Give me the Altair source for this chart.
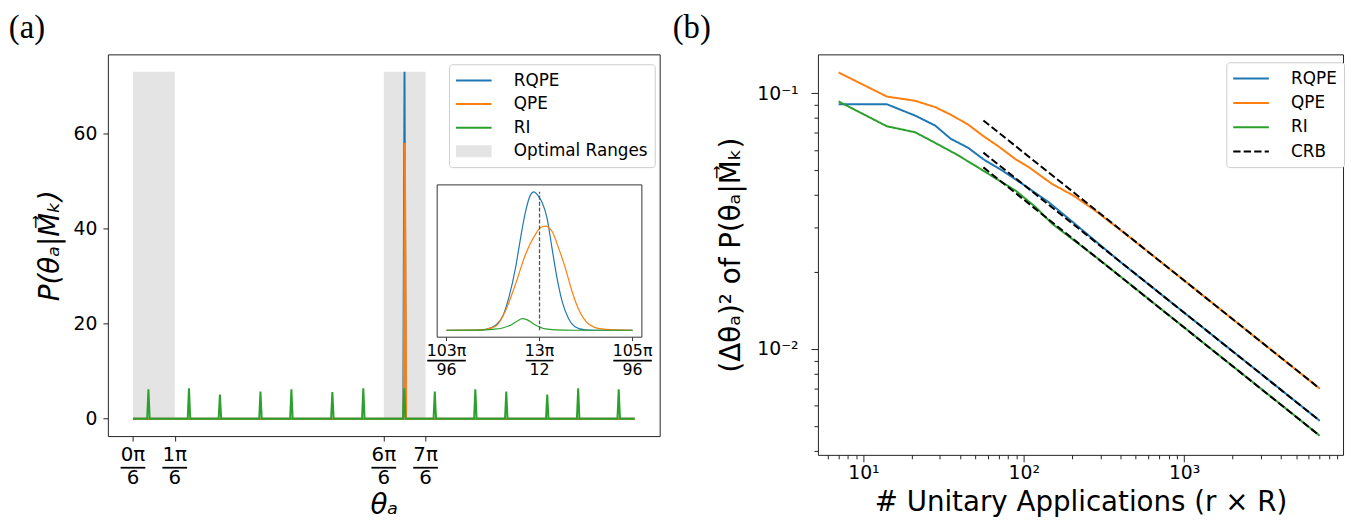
import altair as alt
import pandas as pd

FONT = "DejaVu Sans"
BLUE, ORANGE, GREEN, GRAY = "#1f77b4", "#ff7f0e", "#2ca02c", "#e4e4e4"

# ---------------- Panel (a) : posterior over theta (x in units of pi/6) ----------------
A_SERIES = ["RQPE", "QPE", "RI", "Optimal Ranges"]
A_COLORS = [BLUE, ORANGE, GREEN, GRAY]
A_XTICKS = [0, 1, 6, 7]
A_XTICK_NUM = ["0π", "1π", "6π", "7π"]
A_XTICK_DEN = ["6", "6", "6", "6"]
A_YTICKS = [0, 20, 40, 60]
OPT_START = [0, 6]
OPT_END = [1, 7]
OPT_TOP = [73, 73]
THETA_RANGE = [0, 12]
RQPE_PEAK_X = [6.496]
RQPE_PEAK_Y = [73.0]
QPE_PEAK_X = [6.504]
QPE_PEAK_Y = [58.0]
RI_PEAK_X = [0.37, 1.34, 2.08, 3.05, 3.79, 4.77, 5.51, 6.49, 7.22, 8.19, 8.93, 9.91, 10.65, 11.62]
RI_PEAK_Y = [6.2, 6.4, 5.1, 5.7, 6.2, 5.6, 6.4, 6.4, 5.7, 6.2, 5.7, 5.1, 6.4, 6.2]
PEAK_HALF_WIDTH = 0.03

# inset (x in units of pi/96)
IN_XTICKS = [103, 104, 105]
IN_NUM = ["103π", "13π", "105π"]
IN_DEN = ["96", "12", "96"]
IN_TRUE_X = [104]
IN_TRUE_TOP = [73]
RQPE_IN_X = [103.0, 103.32, 103.425, 103.531, 103.602, 103.672, 103.743, 103.797, 103.850, 103.903,
             103.938, 103.991, 104.027, 104.080, 104.133, 104.186, 104.240, 104.310, 104.381, 104.487,
             104.593, 105.0]
RQPE_IN_Y = [0, 0, 0.5, 2.8, 7.1, 17.6, 33.2, 48.9, 62.7, 71.4, 73.0, 70.5, 67.5, 59.3, 43.6, 28.0,
             15.8, 6.3, 1.9, 0.2, 0, 0]
QPE_IN_X = [103.0, 103.319, 103.425, 103.531, 103.637, 103.743, 103.850, 103.956, 104.009, 104.062,
            104.133, 104.203, 104.275, 104.346, 104.416, 104.522, 104.664, 104.841, 105.0]
QPE_IN_Y = [0, 0.1, 0.5, 2.2, 10.6, 24.5, 40.1, 50.6, 54.1, 54.9, 52.3, 43.6, 33.2, 21.0, 11.5, 3.6,
            0.7, 0.2, 0]
RI_IN_X = [103.0, 103.319, 103.496, 103.602, 103.708, 103.762, 103.815, 103.868, 103.956, 104.062,
           104.168, 104.381, 105.0]
RI_IN_Y = [0, 0.1, 0.5, 1.2, 3.2, 4.9, 6.1, 5.5, 2.8, 0.7, 0.2, 0, 0]

# ---------------- Panel (b) : variance vs unitary applications ----------------
B_SERIES = ["RQPE", "QPE", "RI", "CRB"]
B_COLORS = [BLUE, ORANGE, GREEN, "black"]
RQPE_N = [7, 14, 21, 28, 35, 45, 56, 74, 98, 143, 204, 400, 1000, 2000, 4000, 7000]
RQPE_V = [0.0906, 0.0906, 0.0818, 0.0748, 0.0664, 0.0612, 0.0552, 0.0497, 0.0442, 0.0375, 0.0312,
          0.0219, 0.01387, 0.00981, 0.00694, 0.00524]
QPE_N = [7, 14, 21, 28, 35, 45, 56, 70, 89, 108, 150, 204, 278, 500, 1000, 2000, 4000, 7000]
QPE_V = [0.1206, 0.0971, 0.0935, 0.0883, 0.0825, 0.0754, 0.068, 0.0618, 0.0552, 0.0513, 0.0442,
         0.0398, 0.0348, 0.0262, 0.01853, 0.0131, 0.00926, 0.0070]
RI_N = [7, 14, 21, 28, 38, 50, 67, 89, 119, 150, 300, 1000, 2000, 4000, 7000]
RI_V = [0.0929, 0.0743, 0.0704, 0.064, 0.0577, 0.052, 0.0464, 0.0416, 0.0358, 0.0309, 0.0222,
        0.01214, 0.00858, 0.00607, 0.00458]
CRB_N = [56, 7000]
CRB_RQPE = [0.0586, 0.00524]
CRB_QPE = [0.0783, 0.0070]
CRB_RI = [0.0513, 0.00458]
B_XTICKS = [6, 7, 8, 9, 10, 20, 30, 40, 50, 60, 70, 80, 90, 100, 200, 300, 400, 500, 600, 700,
            800, 900, 1000, 2000, 3000, 4000, 5000, 6000, 7000, 8000, 9000]
B_YTICKS = [0.004, 0.005, 0.006, 0.007, 0.008, 0.009, 0.01, 0.02, 0.03, 0.04, 0.05, 0.06, 0.07,
            0.08, 0.09, 0.1]

# ---------------- build tables ----------------
def spikes(name, px, py):
    pts = [(THETA_RANGE[0], 0.0)]
    for p, h in zip(px, py):
        pts += [(p - PEAK_HALF_WIDTH, 0.0), (p, h), (p + PEAK_HALF_WIDTH, 0.0)]
    pts.append((THETA_RANGE[1], 0.0))
    return pd.DataFrame({"x": [a for a, _ in pts], "y": [b for _, b in pts], "series": name})

df_rqpe = spikes("RQPE", RQPE_PEAK_X, RQPE_PEAK_Y)
df_qpe = spikes("QPE", QPE_PEAK_X, QPE_PEAK_Y)
df_ri = spikes("RI", RI_PEAK_X, RI_PEAK_Y)
df_opt = pd.DataFrame({"x": OPT_START, "x2": OPT_END, "y": [0, 0], "y2": OPT_TOP})
df_xt = pd.DataFrame({"x": A_XTICKS, "num": A_XTICK_NUM, "den": A_XTICK_DEN})

A_XDOM = [-0.6, 12.6]
A_YDOM = [-3.65, 76.65]
W_A, H_A = 558, 386

ax_x = alt.Axis(values=A_XTICKS, labels=False, tickSize=5, title="θₐ", titleFontSize=28,
                titleFontStyle="italic", titlePadding=51)
ax_y = alt.Axis(values=A_YTICKS, tickSize=5, labelFontSize=19, labelPadding=6,
                title="P(θₐ|M⃗ₖ)", titleFontSize=28, titleFontStyle="italic", titlePadding=9)
sx = alt.Scale(domain=A_XDOM, nice=False, zero=False)
sy = alt.Scale(domain=A_YDOM, nice=False, zero=False)

# legend symbols: a 36px line (size 289 -> unit half-width 8.5px), a filled patch for the ranges
LINE_SYM = "M-2.12,0H2.12"
PATCH_SYM = ("M-2.12,-0.6H2.12M-2.12,-0.4H2.12M-2.12,-0.2H2.12M-2.12,0H2.12"
             "M-2.12,0.2H2.12M-2.12,0.4H2.12M-2.12,0.6H2.12")
LEG_COMMON = dict(title=None, orient="none", fillColor="white", strokeColor="#cccccc",
                  cornerRadius=3, padding=7, labelFontSize=17, labelFont=FONT, labelColor="black",
                  labelOffset=31, symbolOffset=8.5, symbolSize=289, symbolStrokeWidth=2)
leg_a = alt.Legend(
    legendX=345, legendY=10, rowPadding=5.8,
    symbolType=alt.ExprRef(expr=f"datum.value === 'Optimal Ranges' ? '{PATCH_SYM}' : '{LINE_SYM}'"),
    **LEG_COMMON,
)
cscale_a = alt.Scale(domain=A_SERIES, range=A_COLORS)
col_a = alt.Color("series:N", scale=cscale_a, legend=leg_a)

def X(field="x"):
    return alt.X(f"{field}:Q", scale=sx, axis=ax_x)

def Y(field="y"):
    return alt.Y(f"{field}:Q", scale=sy, axis=ax_y)

opt_layer = alt.Chart(df_opt).mark_rect(color=GRAY).encode(x=X(), x2="x2:Q", y=Y(), y2="y2:Q")
line_layers = [
    alt.Chart(d).mark_line(strokeWidth=2).encode(x=X(), y=Y(), color=col_a)
    for d in (df_rqpe, df_qpe, df_ri)
]
num_layer = alt.Chart(df_xt).mark_text(font=FONT, fontSize=20, baseline="middle", color="black").encode(
    x=X(), y=alt.value(405.5), text="num:N")
bar_layer = alt.Chart(df_xt).mark_rule(xOffset=-12.5, x2Offset=12.5, strokeWidth=1.8, color="black").encode(
    x=X(), x2="x:Q", y=alt.value(418))
den_layer = alt.Chart(df_xt).mark_text(font=FONT, fontSize=20, baseline="middle", color="black").encode(
    x=X(), y=alt.value(428.5), text="den:N")
main_a = alt.layer(opt_layer, *line_layers, num_layer, bar_layer, den_layer)

# inset
IN_XDOM = [102.9, 105.1]
isx = alt.Scale(domain=IN_XDOM, range=[333, 540], nice=False, zero=False)
isy = alt.Scale(domain=A_YDOM, range=[286, 132], nice=False, zero=False)

def IX(field="u"):
    return alt.X(f"{field}:Q", scale=isx, axis=None)

def IY(field="v"):
    return alt.Y(f"{field}:Q", scale=isy, axis=None)

df_frame = pd.DataFrame({"u": [IN_XDOM[0]], "u2": [IN_XDOM[1]], "v": [A_YDOM[0]], "v2": [A_YDOM[1]]})
frame = alt.Chart(df_frame).mark_rect(fill="white", stroke="#333333", strokeWidth=1).encode(
    x=IX(), x2="u2:Q", y=IY(), y2="v2:Q")
in_lines = []
for xs, ys, c in ((RQPE_IN_X, RQPE_IN_Y, BLUE), (QPE_IN_X, QPE_IN_Y, ORANGE), (RI_IN_X, RI_IN_Y, GREEN)):
    in_lines.append(alt.Chart(pd.DataFrame({"u": xs, "v": ys})).mark_line(
        strokeWidth=1.2, color=c, interpolate="monotone").encode(x=IX(), y=IY()))
df_true = pd.DataFrame({"u": IN_TRUE_X, "v": [0], "v2": IN_TRUE_TOP})
true_rule = alt.Chart(df_true).mark_rule(strokeDash=[4, 2], color="#555555", strokeWidth=1.3).encode(
    x=IX(), y=IY(), y2="v2:Q")
df_it = pd.DataFrame({"u": IN_XTICKS, "v": [A_YDOM[0]] * 3, "num": IN_NUM, "den": IN_DEN})
in_ticks = alt.Chart(df_it).mark_rule(y2Offset=4, color="#333333", strokeWidth=1).encode(
    x=IX(), y=IY(), y2="v:Q")
in_num = alt.Chart(df_it).mark_text(font=FONT, fontSize=16, baseline="middle", color="black").encode(
    x=IX(), y=alt.value(300.5), text="num:N")
in_den = alt.Chart(df_it).mark_text(font=FONT, fontSize=16, baseline="middle", color="black").encode(
    x=IX(), y=alt.value(319), text="den:N")
df_wide = df_it[df_it["num"].str.len() > 3]
df_narrow = df_it[df_it["num"].str.len() <= 3]
in_bar_w = alt.Chart(df_wide).mark_rule(xOffset=-19.5, x2Offset=19.5, strokeWidth=1.6, color="black").encode(
    x=IX(), x2="u:Q", y=alt.value(309.7))
in_bar_n = alt.Chart(df_narrow).mark_rule(xOffset=-14, x2Offset=14, strokeWidth=1.6, color="black").encode(
    x=IX(), x2="u:Q", y=alt.value(309.7))
inset = alt.layer(frame, *in_lines, true_rule, in_ticks, in_num, in_den, in_bar_w, in_bar_n)

panel_a = alt.layer(main_a, inset).resolve_scale(x="independent", y="independent").properties(
    width=W_A, height=H_A,
    title=alt.TitleParams("(a)", anchor="start", frame="bounds", dx=-28, offset=10))

# ---------------- Panel (b) ----------------
rows = []
for name, ns, vs in (("RQPE", RQPE_N, RQPE_V), ("QPE", QPE_N, QPE_V), ("RI", RI_N, RI_V)):
    rows += [{"n": n, "v": v, "series": name, "grp": name} for n, v in zip(ns, vs)]
df_b = pd.DataFrame(rows)
rows = []
for name, vs in (("RQPE", CRB_RQPE), ("QPE", CRB_QPE), ("RI", CRB_RI)):
    rows += [{"n": n, "v": v, "series": "CRB", "grp": "crb_" + name} for n, v in zip(CRB_N, vs)]
df_crb = pd.DataFrame(rows)

MAJ_X = "datum.value == 10 || datum.value == 100 || datum.value == 1000"
MAJ_Y = "datum.value == 0.01 || datum.value == 0.1"
bx_axis = alt.Axis(values=B_XTICKS, labelExpr="datum.value == 10 ? '10¹' : datum.value == 100 ? '10²' : datum.value == 1000 ? '10³' : ''",
                   tickSize={"condition": {"test": MAJ_X, "value": 7}, "value": 4},
                   labelFontSize=19, labelPadding=2, labelOverlap=False, labelFlush=False,
                   title="# Unitary Applications (r × R)", titleFontSize=28, titlePadding=6)
by_axis = alt.Axis(values=B_YTICKS, labelExpr="datum.value == 0.1 ? '10⁻¹' : datum.value == 0.01 ? '10⁻²' : ''",
                   tickSize={"condition": {"test": MAJ_Y, "value": 7}, "value": 4},
                   labelFontSize=19, labelPadding=13, labelOverlap=False, labelFlush=False,
                   title="(Δθₐ)² of P(θₐ|M⃗ₖ)", titleFontSize=28, titlePadding=11)
bsx = alt.Scale(type="log", domain=[5.2, 9800], nice=False)
bsy = alt.Scale(type="log", domain=[0.00385, 0.142], nice=False)
leg_b = alt.Legend(legendX=413, legendY=8, rowPadding=6.6, symbolType=LINE_SYM, **LEG_COMMON)
col_b = alt.Color("series:N", scale=alt.Scale(domain=B_SERIES, range=B_COLORS), legend=leg_b)
dash_b = alt.StrokeDash("series:N", scale=alt.Scale(domain=B_SERIES, range=[[1, 0], [1, 0], [1, 0], [7.4, 3.2]]),
                        legend=leg_b)
enc_b = dict(x=alt.X("n:Q", scale=bsx, axis=bx_axis), y=alt.Y("v:Q", scale=bsy, axis=by_axis),
             color=col_b, strokeDash=dash_b, detail="grp:N")
b_lines = alt.Chart(df_b).mark_line(strokeWidth=2).encode(**enc_b)
b_crb = alt.Chart(df_crb).mark_line(strokeWidth=2).encode(**enc_b)
panel_b = alt.layer(b_lines, b_crb).properties(
    width=531, height=405,
    title=alt.TitleParams("(b)", anchor="start", frame="bounds", dx=-46, offset=10))

chart = alt.hconcat(panel_a, panel_b, spacing=11).resolve_scale(
    color="independent", strokeDash="independent"
).properties(
    padding={"left": 0, "top": 0, "right": 0, "bottom": 0}
).configure_view(stroke="#222222", strokeWidth=1).configure_axis(
    labelFont=FONT, titleFont=FONT, labelColor="black", titleColor="black", tickColor="#222222",
    domain=False, grid=False, titleFontWeight="normal"
).configure_title(font="Liberation Serif", fontSize=33, fontWeight="normal", color="black")

chart.save("out.html", embed_options={"renderer": "svg", "actions": False})
